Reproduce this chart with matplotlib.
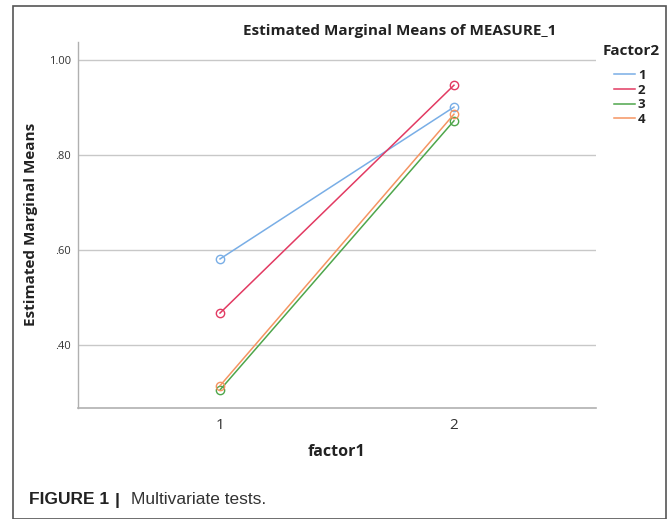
import matplotlib
matplotlib.use("Agg")
import matplotlib.pyplot as plt
from matplotlib.patches import Rectangle
from matplotlib.lines import Line2D

factor1 = [1, 2]
series_names = ["1", "2", "3", "4"]
s1 = [0.581, 0.901]
s2 = [0.467, 0.947]
s3 = [0.305, 0.872]
s4 = [0.314, 0.886]
yticks = [0.40, 0.60, 0.80, 1.00]
ytick_labels = [".40", ".60", ".80", "1.00"]
colors = ["#79aee6", "#e23a62", "#4ea64b", "#f59462"]

plt.rcParams["font.family"] = ["Open Sans", "DejaVu Sans"]

W, H = 669, 519
fig = plt.figure(figsize=(W / 100, H / 100), dpi=100)
fig.patch.set_facecolor("white")

# outer frame
fig.patches.append(Rectangle((13 / W, 0), (666 - 13) / W, (H - 6) / H,
                             transform=fig.transFigure, fill=False,
                             edgecolor="#555555", linewidth=1.2))

ax = fig.add_axes([78 / W, (H - 408) / H, (596 - 78) / W, (408 - 42) / H])
for vals, c in zip([s1, s2, s3, s4], colors):
    ax.plot(factor1, vals, color=c, linewidth=1.1, marker="o", markersize=6,
            markerfacecolor="none", markeredgecolor=c, markeredgewidth=1.0)

ax.set_xlim(0.393, 2.607)
ax.set_ylim(0.267, 1.038)
ax.set_yticks(yticks)
ax.set_yticklabels(ytick_labels, fontsize=8, color="#333333")
ax.set_xticks(factor1)
ax.set_xticklabels(["1", "2"], fontsize=11, color="#333333")
ax.tick_params(axis="y", length=0, pad=5)
ax.tick_params(axis="x", length=0, pad=7)
ax.grid(axis="y", color="#c8c8c8", linewidth=1.0)
ax.set_axisbelow(True)
for sp in ["top", "right"]:
    ax.spines[sp].set_visible(False)
ax.spines["left"].set_color("#b0b0b0")
ax.spines["bottom"].set_color("#b0b0b0")
ax.spines["left"].set_linewidth(1.0)
ax.spines["bottom"].set_linewidth(1.2)

fig.text(400 / W, 1 - 31 / H, "Estimated Marginal Means of MEASURE_1",
         ha="center", va="center", fontsize=11, fontweight="bold", color="#222222")
fig.text(31 / W, 1 - 224 / H, "Estimated Marginal Means", rotation=90,
         ha="center", va="center", fontsize=11, fontweight="bold", color="#222222")
fig.text(337 / W, 1 - 452 / H, "factor1", ha="center", va="center",
         fontsize=11.5, fontweight="bold", color="#222222")
fig.text(631 / W, 1 - 51 / H, "Factor2", ha="center", va="center",
         fontsize=11, fontweight="bold", color="#222222")

handles = [Line2D([0], [0], color=c, linewidth=1.1) for c in colors]
leg = fig.legend(handles, series_names, loc="upper left",
                 bbox_to_anchor=(614 / W, 1 - 69 / H), frameon=False,
                 handlelength=1.6, handletextpad=0.2, labelspacing=0.12,
                 fontsize=9.5, borderpad=0, borderaxespad=0)
for t in leg.get_texts():
    t.set_color("#222222")
    t.set_fontweight("bold")

cap_font = ["Liberation Sans"]
fig.text(29 / W, 1 - 500 / H, "FIGURE 1", ha="left", va="center",
         fontsize=12.5, fontweight="bold", color="#222222", family=cap_font)
fig.text(115 / W, 1 - 500 / H, "|", ha="left", va="center",
         fontsize=12.5, fontweight="bold", color="#222222", family=cap_font)
fig.text(131 / W, 1 - 500 / H, "Multivariate tests.", ha="left", va="center",
         fontsize=12.5, color="#333333", family=cap_font)

fig.savefig("out.png", dpi=100)
